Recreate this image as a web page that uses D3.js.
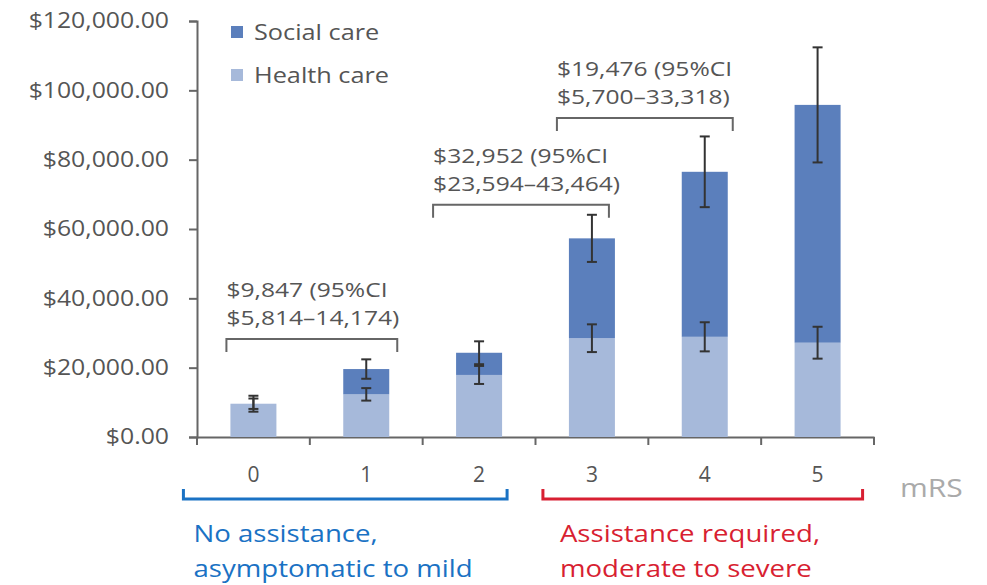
<!DOCTYPE html>
<html><head><meta charset="utf-8">
<script src="https://cdn.jsdelivr.net/npm/d3@7"></script>
<style>body{margin:0;background:#fff;} svg{display:block;}</style>
</head><body>
<svg id="chart" width="987" height="585"></svg>
<script>
// ---- data ----
const categories = ["0","1","2","3","4","5"];
const healthCare = [9600, 12300, 17900, 28500, 28900, 27200];
const socialCare = [0, 7300, 6400, 28800, 47600, 68600];
const healthErr  = [2300, 1800, 2600, 4000, 4200, 4600];
const socialErr  = [1500, 2800, 3300, 6800, 10200, 16600];
const yTicks = [0, 20000, 40000, 60000, 80000, 100000, 120000];
const seriesNames = ["Social care", "Health care"];
const compFrom = ["0","2","3"];
const compTo   = ["1","3","4"];
const compLine1 = ["$9,847 (95%CI", "$32,952 (95%CI", "$19,476 (95%CI"];
const compLine2 = ["$5,814\u201314,174)", "$23,594\u201343,464)", "$5,700\u201333,318)"];
const groupLabels = [["No assistance,", "asymptomatic to mild"], ["Assistance required,", "moderate to severe"]];
const groupFrom = ["0","3"];
const groupTo = ["2","5"];
const xAxisTitle = "mRS";

// ---- layout ----
const colSocial = "#5b7fbc", colHealth = "#a6b9da";
const svg = d3.select("#chart");
const x = d3.scaleBand().domain(categories).range([197, 874]).padding(0);
const y = d3.scaleLinear().domain([0, 120000]).range([437, 21]);
const barW = 46;
const cx = c => x(c) + x.bandwidth() / 2;
const font = "'Open Sans', sans-serif";

// text with horizontal stretch (reference glyphs are wider than the available fonts)
function stext(parent, tx, ty, str, size, sx, fill, anchor) {
  return parent.append("text")
    .attr("transform", `translate(${tx},${ty}) scale(${sx},1)`)
    .attr("text-anchor", anchor || "start")
    .attr("fill", fill).style("font-family", font).style("font-size", size + "px")
    .text(str);
}

// y axis
const yAxis = svg.append("g").attr("transform", "translate(197,0)")
  .call(d3.axisLeft(y).tickValues(yTicks).tickSize(8).tickPadding(19)
    .tickFormat(d => "$" + d3.format(",.2f")(d)));
yAxis.select(".domain").attr("stroke", "#666").attr("stroke-width", 2);
yAxis.selectAll(".tick line").attr("stroke", "#666").attr("stroke-width", 2);
yAxis.selectAll(".tick text").attr("fill", "#555").style("font-family", font).style("font-size", "21px")
  .attr("x", 0).attr("transform", "translate(-28,0) scale(1.18,1)");

// x axis
const xAxis = svg.append("g").attr("transform", "translate(0,437)")
  .call(d3.axisBottom(x).tickSize(0).tickPadding(30));
xAxis.select(".domain").attr("stroke", "#666").attr("stroke-width", 2);
xAxis.selectAll(".tick text").attr("fill", "#555").style("font-family", font).style("font-size", "21px");
svg.append("g").selectAll("line").data(d3.range(categories.length + 1)).join("line")
  .attr("x1", i => 197 + i * x.bandwidth()).attr("x2", i => 197 + i * x.bandwidth())
  .attr("y1", 437).attr("y2", 445).attr("stroke", "#666").attr("stroke-width", 2);

// bars
const stacked = categories.map((c, i) => ({c, h: healthCare[i], s: socialCare[i], he: healthErr[i], se: socialErr[i]}));
svg.append("g").selectAll("rect").data(stacked).join("rect")
  .attr("x", d => cx(d.c) - barW / 2).attr("width", barW)
  .attr("y", d => y(d.h)).attr("height", d => y(0) - y(d.h)).attr("fill", colHealth);
svg.append("g").selectAll("rect").data(stacked.filter(d => d.s > 0)).join("rect")
  .attr("x", d => cx(d.c) - barW / 2).attr("width", barW)
  .attr("y", d => y(d.h + d.s)).attr("height", d => y(d.h) - y(d.h + d.s)).attr("fill", colSocial);

// error bars
function errBars(getCenter, getErr) {
  const g = svg.append("g").attr("stroke", "#333").attr("stroke-width", 2);
  stacked.forEach(d => {
    const c = getCenter(d), e = getErr(d), xx = cx(d.c);
    g.append("line").attr("x1", xx).attr("x2", xx).attr("y1", y(c + e)).attr("y2", y(c - e));
    [c + e, c - e].forEach(v => g.append("line").attr("x1", xx - 5).attr("x2", xx + 5).attr("y1", y(v)).attr("y2", y(v)));
  });
}
errBars(d => d.h, d => d.he);
errBars(d => d.h + d.s, d => d.se);

// comparison brackets
const bracketLevel = [28300, 67000, 92000];
const bracketOffL = [27, 46, 35];
const bracketOffR = [31, 17, 28];
compFrom.forEach((f, i) => {
  const x1 = cx(f) - bracketOffL[i], x2 = cx(compTo[i]) + bracketOffR[i], yy = y(bracketLevel[i]);
  svg.append("path").attr("d", `M${x1},${yy + 13}V${yy}H${x2}V${yy + 13}`)
    .attr("fill", "none").attr("stroke", "#666").attr("stroke-width", 2);
  stext(svg, x1, yy - 42, compLine1[i], 20, 1.23, "#555");
  stext(svg, x1, yy - 14, compLine2[i], 20, 1.23, "#555");
});

// legend
[colSocial, colHealth].forEach((col, i) => {
  svg.append("rect").attr("x", 231).attr("y", 26 + i * 43).attr("width", 12).attr("height", 12).attr("fill", col);
  stext(svg, 254, 40 + i * 43, seriesNames[i], 22, 1.15, "#555");
});

// mRS title
stext(svg, 900, 497, xAxisTitle, 25, 1.2, "#aaa");

// group brackets
const groupCol = ["#1a72c4", "#d81f32"];
const groupOffL = [70, 49];
const groupOffR = [28, 45];
const groupTextOff = [10, 17];
groupFrom.forEach((f, i) => {
  const x1 = cx(f) - groupOffL[i], x2 = cx(groupTo[i]) + groupOffR[i];
  svg.append("path").attr("d", `M${x1},489V499H${x2}V489`).attr("fill", "none")
    .attr("stroke", groupCol[i]).attr("stroke-width", 3);
  stext(svg, x1 + groupTextOff[i], 542, groupLabels[i][0], 24, 1.15, groupCol[i]);
  stext(svg, x1 + groupTextOff[i], 577, groupLabels[i][1], 24, 1.15, groupCol[i]);
});
</script>
</body></html>
